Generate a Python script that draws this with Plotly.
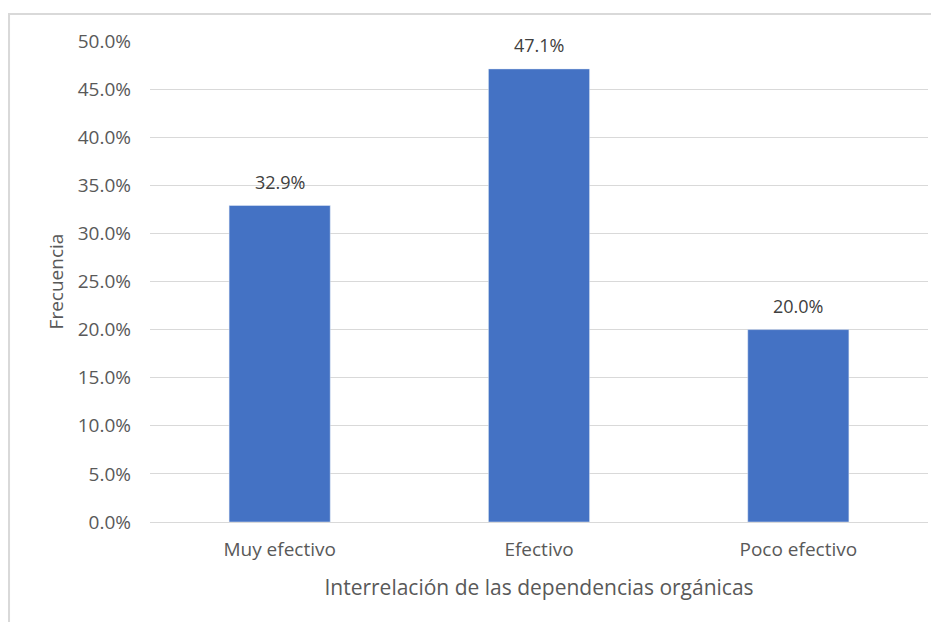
import plotly.graph_objects as go

categorias = ["Muy efectivo", "Efectivo", "Poco efectivo"]
valores = [0.329, 0.471, 0.200]
etiquetas = ["32.9%", "47.1%", "20.0%"]
ticks_y = [0, 0.05, 0.10, 0.15, 0.20, 0.25, 0.30, 0.35, 0.40, 0.45, 0.50]

gris = "#595959"
fuente = "Open Sans, Liberation Sans, sans-serif"

fig = go.Figure(go.Bar(
    x=categorias,
    y=valores,
    marker=dict(color="#4472c4"),
    hoverinfo="x+y",
))

# etiquetas de datos sobre cada barra
for cat, val, txt in zip(categorias, valores, etiquetas):
    fig.add_annotation(
        x=cat, y=val, text=txt, showarrow=False,
        yanchor="bottom", yshift=10,
        font=dict(size=18, color="#404040", family=fuente),
    )

# la pagina tiene 8px de margen en el body, se compensa aqui
fig.update_layout(
    width=931,
    height=614,
    margin=dict(l=142, r=11, t=33, b=100),
    paper_bgcolor="white",
    plot_bgcolor="white",
    bargap=0.61,
    showlegend=False,
    font=dict(family=fuente, color=gris, size=18),
    xaxis=dict(
        title=dict(text="Interrelación de las dependencias orgánicas",
                   font=dict(size=21, color=gris), standoff=19),
        tickfont=dict(size=19, color=gris),
        ticklabelstandoff=10,
        showline=True,
        linecolor="#d9d9d9",
        linewidth=1,
        ticks="",
    ),
    yaxis=dict(
        title=dict(text="Frecuencia", font=dict(size=19, color=gris), standoff=9),
        range=[0, 0.5],
        tickvals=ticks_y,
        tickformat=".1%",
        tickfont=dict(size=19, color=gris),
        ticklabelstandoff=18,
        showgrid=True,
        gridcolor="#d9d9d9",
        gridwidth=1,
        zeroline=False,
        ticks="",
    ),
    shapes=[dict(
        type="rect", xref="paper", yref="paper",
        x0=-0.1812, x1=1.05, y0=-0.3, y1=1.0561,
        line=dict(color="#d9d9d9", width=2),
        fillcolor="rgba(0,0,0,0)",
        layer="below",
    )],
)

fig.write_html("out.html")
